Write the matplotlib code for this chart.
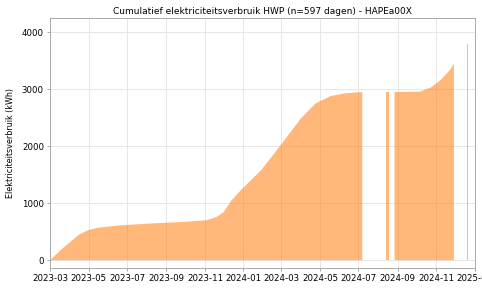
import matplotlib
matplotlib.use("Agg")
import matplotlib.dates as mdates
import matplotlib.pyplot as plt
import numpy as np
import pandas as pd

# Cumulative consumption (kWh); None marks a gap without data
dates = [
    "2023-03-01", "2023-03-20", "2023-04-16", "2023-05-01", "2023-05-16",
    "2023-06-20", "2023-08-01", "2023-09-25", "2023-11-03", "2023-11-20",
    "2023-12-01", "2023-12-13", "2023-12-28", "2024-01-29", "2024-02-29",
    "2024-04-01", "2024-04-24", "2024-05-18", "2024-06-11", "2024-07-07",
    "2024-07-08",
    "2024-08-13", "2024-08-18",
    "2024-08-19",
    "2024-08-27", "2024-10-07", "2024-10-23", "2024-11-07", "2024-11-23",
    "2024-11-29",
    "2024-11-30",
    "2024-12-20", "2024-12-22",
]
kwh = [
    0, 200, 450, 530, 570,
    610, 640, 670, 700, 760,
    850, 1050, 1230, 1580, 2020,
    2490, 2750, 2880, 2930, 2950,
    None,
    2950, 2950,
    None,
    2950, 2960, 3030, 3150, 3340,
    3450,
    None,
    3800, 3800,
]

title = "Cumulatief elektriciteitsverbruik HWP (n=597 dagen) - HAPEa00X"
y_label = "Elektriciteitsverbruik (kWh)"

df = pd.DataFrame({"date": pd.to_datetime(dates), "kwh": [np.nan if v is None else v for v in kwh]})

fig, ax = plt.subplots(figsize=(4.82, 2.88), dpi=100)
fig.subplots_adjust(left=0.104, right=0.985, top=0.9375, bottom=0.069)

ax.fill_between(df["date"], 0, df["kwh"], color="tab:orange", alpha=0.55, linewidth=0)

ax.set_xlim(pd.Timestamp("2023-03-01"), pd.Timestamp("2025-01-01"))
ax.set_ylim(-140, 4250)
ax.set_yticks([0, 1000, 2000, 3000, 4000])
ax.xaxis.set_major_locator(mdates.MonthLocator(bymonth=[1, 3, 5, 7, 9, 11]))
ax.xaxis.set_major_formatter(mdates.DateFormatter("%Y-%m"))

ax.set_title(title, fontsize=6.5, pad=3)
ax.set_ylabel(y_label, fontsize=5.8, labelpad=5)
ax.tick_params(labelsize=6.2, length=2.5, width=0.5, color="#888888", pad=2)
ax.grid(True, color="#e2e2e2", linewidth=0.6)
ax.set_axisbelow(True)
for spine in ax.spines.values():
    spine.set_color("#aaaaaa")
    spine.set_linewidth(0.7)

fig.savefig("out.png", dpi=100)
